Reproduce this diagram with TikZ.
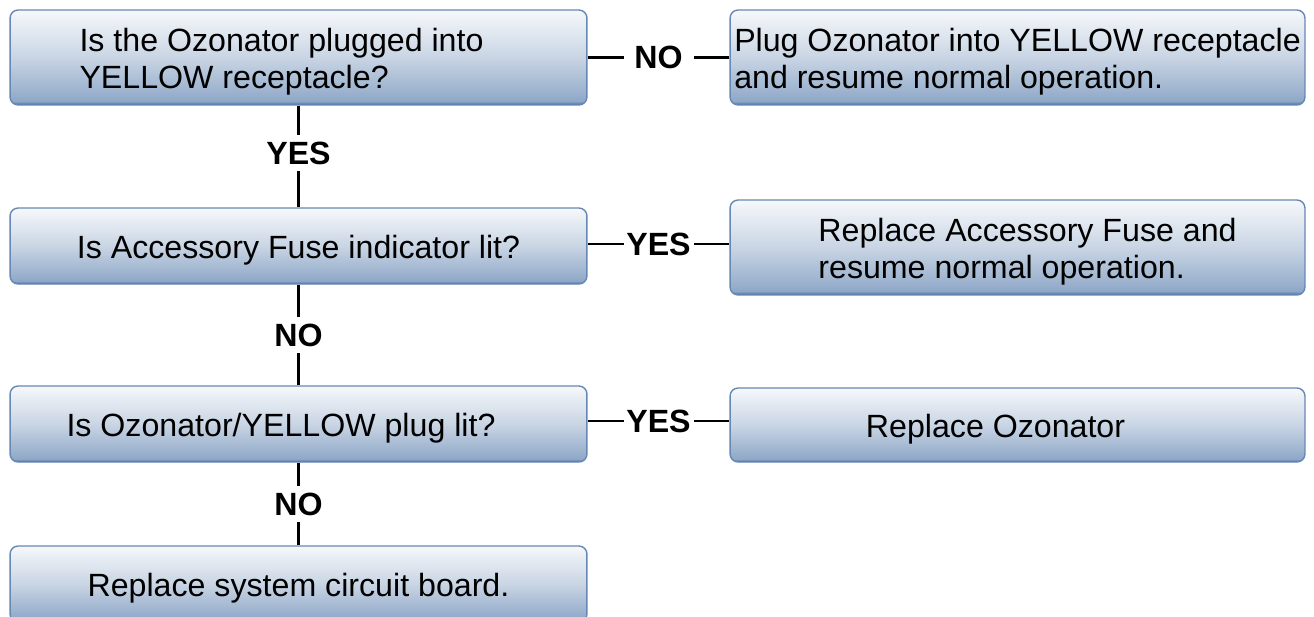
\documentclass[tikz,border=0pt]{standalone}
\usepackage{fontspec}
\setmainfont{Liberation Sans}
\usepackage{xcolor}
\usetikzlibrary{positioning,calc}

\definecolor{boxtop}{HTML}{F6F8FB}
\definecolor{boxmid}{HTML}{C9D5E4}
\definecolor{boxlow}{HTML}{8FA8C8}
\definecolor{boxedge}{HTML}{45699C}
\definecolor{boxline}{HTML}{6688B4}

\pgfdeclareverticalshading{boxshade}{100bp}{color(0bp)=(boxedge); color(25bp)=(boxedge); color(27bp)=(boxlow); color(50bp)=(boxmid); color(75bp)=(boxtop); color(100bp)=(boxtop)}

\tikzset{
  box/.style={rectangle, rounded corners=0.16cm, draw=boxline, line width=0.8pt,
    shading=boxshade, align=left, inner sep=0pt,
    font=\fontsize{18.3}{21.6}\selectfont,
    execute at begin node={\rule{0pt}{17.9pt}}},
  twoline/.style={execute at begin node={\rule{0pt}{39.6pt}}},
  answer/.style={fill=white, inner sep=0pt, minimum width=1.4cm, minimum height=0.72cm,
    font=\fontsize{18.3}{21.6}\selectfont\bfseries},
  link/.style={line width=1.4pt, black}
}

\begin{document}
\begin{tikzpicture}[x=0.02cm, y=-0.02cm]
\clip (0,0) rectangle (1314,616);
\fill[white] (0,0) rectangle (1314,616);

% Questions (left column)
\node[box, twoline, minimum width=11.54cm, minimum height=1.9cm] (q1) at (298.5,57.5)
  {Is the Ozonator plugged into\hspace*{0.68cm}\\YELLOW receptacle?};
\node[box, minimum width=11.54cm, minimum height=1.52cm] (q2) at (298.5,246)
  {Is Accessory Fuse indicator lit?};
\node[box, minimum width=11.54cm, minimum height=1.52cm] (q3) at (298.5,424)
  {Is Ozonator/YELLOW plug lit?\hspace*{0.7cm}};
\node[box, minimum width=11.54cm, minimum height=1.52cm] (q4) at (298.5,584)
  {Replace system circuit board.};

% Actions (right column)
\node[box, twoline, minimum width=11.5cm, minimum height=1.9cm] (a1) at (1017.5,57.5)
  {Plug Ozonator into YELLOW receptacle\\and resume normal operation.};
\node[box, twoline, minimum width=11.5cm, minimum height=1.9cm] (a2) at (1017.5,247.5)
  {\hspace*{0.4cm}Replace Accessory Fuse and\\\hspace*{0.4cm}resume normal operation.};
\node[box, minimum width=11.5cm, minimum height=1.48cm] (a3) at (1017.5,425)
  {Replace Ozonator\hspace*{0.88cm}};

% Vertical links
\draw[link] (q1) -- (q2) node[answer, pos=0.47] (y1) {YES};
\draw[link] (q2) -- (q3) node[answer, midway] (n2) {NO};
\draw[link] (q3) -- (q4) node[answer, midway] (n3) {NO};

% Horizontal links
\draw[link] (q1.east) -- (q1.east -| a1.west) node[answer, midway] (n1) {NO};
\draw[link] ($(q2.east)+(0,-2)$) -- ($(q2.east -| a2.west)+(0,-2)$) node[answer, midway] (y2) {YES};
\draw[link] ($(q3.east)+(0,-3)$) -- ($(q3.east -| a3.west)+(0,-3)$) node[answer, midway] (y3) {YES};

\end{tikzpicture}
\end{document}
